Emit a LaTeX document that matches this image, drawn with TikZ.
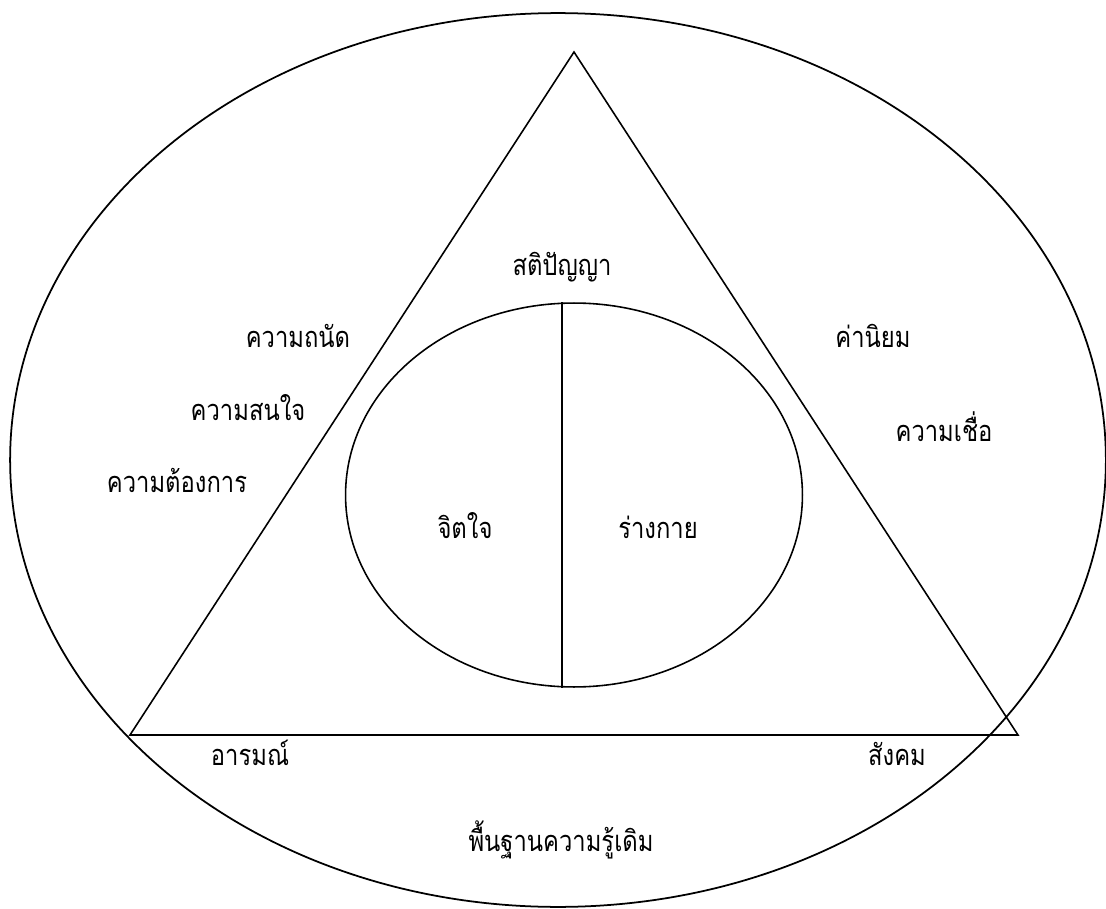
\documentclass[tikz,border=0pt]{standalone}
\usepackage{fontspec}
\newfontfamily\thaifont[Script=Thai,FakeStretch=0.82]{Loma}
\usetikzlibrary{shapes.geometric}
\definecolor{ink}{HTML}{000000}
\tikzset{
  ring/.style={ellipse,draw=ink,line width=1pt,inner sep=0pt},
  edge/.style={draw=ink,line width=0.9pt},
  term/.style={font=\thaifont\fontsize{16.5}{20}\selectfont,text=ink,
    inner sep=0pt,anchor=base}
}

\begin{document}
\begin{tikzpicture}[x=0.02cm,y=-0.02cm]
  \useasboundingbox (0,0) rectangle (1106,909);

  % Background knowledge ring and the inner person
  \node[ring,minimum width=21.92cm,minimum height=17.88cm] (base) at (558,460) {};
  \node[ring,line width=0.9pt,minimum width=9.14cm,minimum height=7.68cm] (self) at (574,495) {};

  \coordinate (apex) at (574,52);
  \coordinate (leftFoot) at (130,735);
  \coordinate (rightFoot) at (1018,735);
  \draw[edge] (apex) -- (leftFoot) -- (rightFoot) -- cycle;

  % Split between mind and body
  \coordinate (split) at (562,0);
  \draw[edge] (split |- self.north) -- (split |- self.south);

  \node[term] (wisdom) at (562,275) {สติปัญญา};
  \node[term] (aptitude) at (298,347) {ความถนัด};
  \node[term] (interest) at (248,420) {ความสนใจ};
  \node[term] (need) at (177,492) {ความต้องการ};
  \node[term] (values) at (873,347) {ค่านิยม};
  \node[term] (belief) at (944,441) {ความเชื่อ};
  \node[term] (mind) at (465,538) {จิตใจ};
  \node[term] (physique) at (658,538) {ร่างกาย};
  \node[term] (emotion) at (250,765) {อารมณ์};
  \node[term] (society) at (897,765) {สังคม};
  \node[term] (prior) at (561,851) {พื้นฐานความรู้เดิม};
\end{tikzpicture}
\end{document}
